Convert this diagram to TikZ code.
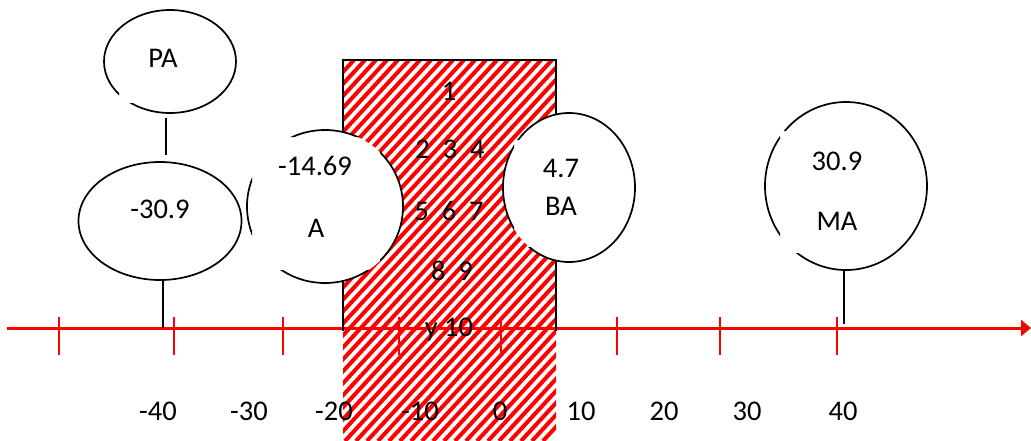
\documentclass[tikz,border=0pt]{standalone}
\usepackage{fontspec}
\setmainfont{Carlito}
\usetikzlibrary{shapes.geometric,arrows.meta}
\newcommand\holeclip[4]{\clip (-10,-10) -- (1041,-10) -- (1041,450) -- (-10,450) -- cycle (#1,#2) -- (#1,#4) -- (#3,#4) -- (#3,#2) -- cycle;}
\begin{document}
\begin{tikzpicture}[x=1pt,y=-1pt,
  font=\fontsize{28.5}{34}\selectfont,
  oval/.style={ellipse, fill=white, inner sep=0pt, outer sep=0pt},
  outline/.style={line width=1.7pt, black},
  txt/.style={anchor=base, inner sep=0pt, outer sep=0pt, text=black},
  link/.style={line width=1.6pt, black},
  axisline/.style={red, line width=3pt},
  tickmark/.style={red, line width=1.5pt},
  stripe/.style={red, line width=4pt},
  border/.style={black, line width=1.6pt}]
\useasboundingbox (0,0) rectangle (1031,440);

% axis ticks
\foreach \x in {59,174,283,399,501,617,720,837}
  \draw[tickmark] (\x,317) -- (\x,355);
% axis
\coordinate (axL) at (7,328);
\coordinate (axR) at (1031,328);
\draw[axisline, -{Triangle[length=10pt,width=16pt]}] (axL) -- (axR);

% hatched band
\begin{scope}
  \clip (343,60) rectangle (556,441);
  \foreach \i in {0,...,50}
    \draw[stripe] ({-7+\i*11},441) -- ({343+\i*11},60);
\end{scope}
\draw[border] (343,331) -- (343,60) -- (556,60) -- (556,331);

% ovals
\node[oval, minimum width=132pt, minimum height=103pt] (PA) at (170,61.5) {};
\begin{scope}\holeclip{119}{30}{205}{103}
  \draw[outline] (PA.center) ellipse [x radius=66pt, y radius=51.5pt];
\end{scope}

\node[oval, draw, line width=1.7pt, minimum width=163pt, minimum height=118pt] (m309) at (160,221) {};

\node[oval, minimum width=156pt, minimum height=153pt] (A) at (325,206.5) {};
\begin{scope}\holeclip{252}{137}{380}{270}
  \draw[outline] (A.center) ellipse [x radius=78pt, y radius=76.5pt];
\end{scope}

\node[oval, minimum width=132pt, minimum height=149pt] (BA) at (569,187.5) {};
\begin{scope}\holeclip{514}{140}{600}{247}
  \draw[outline] (BA.center) ellipse [x radius=66pt, y radius=74.5pt];
\end{scope}

\node[oval, minimum width=162pt, minimum height=168pt] (MA) at (846,186) {};
\begin{scope}\holeclip{780}{131}{890}{253}
  \draw[outline] (MA.center) ellipse [x radius=81pt, y radius=84pt];
\end{scope}

% connectors
\draw[link] ([xshift=-4pt,yshift=-5pt]PA.south) -- ([xshift=6pt,yshift=7pt]m309.north);
\draw[link] ([xshift=3pt]m309.south) -- ++(0,48);
\draw[link] ([xshift=-2pt]MA.south) -- ++(0,54);

% texts in ovals
\node[txt] (tPA) at (163,67) {PA};
\node[txt] (t309) at (160,218) {-30.9};
\node[txt] (t1469) at (315,175) {-14.69};
\node[txt] (tA) at (316,237) {A};
\node[txt] (t47) at (561,177) {4.7};
\node[txt] (tBA) at (561,215) {BA};
\node[txt] (t309b) at (837,170) {30.9};
\node[txt] (tMA) at (837,230) {MA};

% texts in band
\node[txt] (n1) at (449,100) {1};
\node[txt] (n234) at (450,158) {2\ \ 3\ \ 4};
\node[txt] (n567) at (449,220) {5\ \ 6\ \ 7};
\node[txt] (n89) at (452,280) {8\ \ 9};
\node[txt] (ny10) at (449,336) {y 10};

% axis labels
\foreach \x/\t in {158/-40,249/-30,334/-20,420/-10,500/0,581/10,664/20,747/30,843/40}
  \node[txt] at (\x,420) {\t};
\end{tikzpicture}
\end{document}
